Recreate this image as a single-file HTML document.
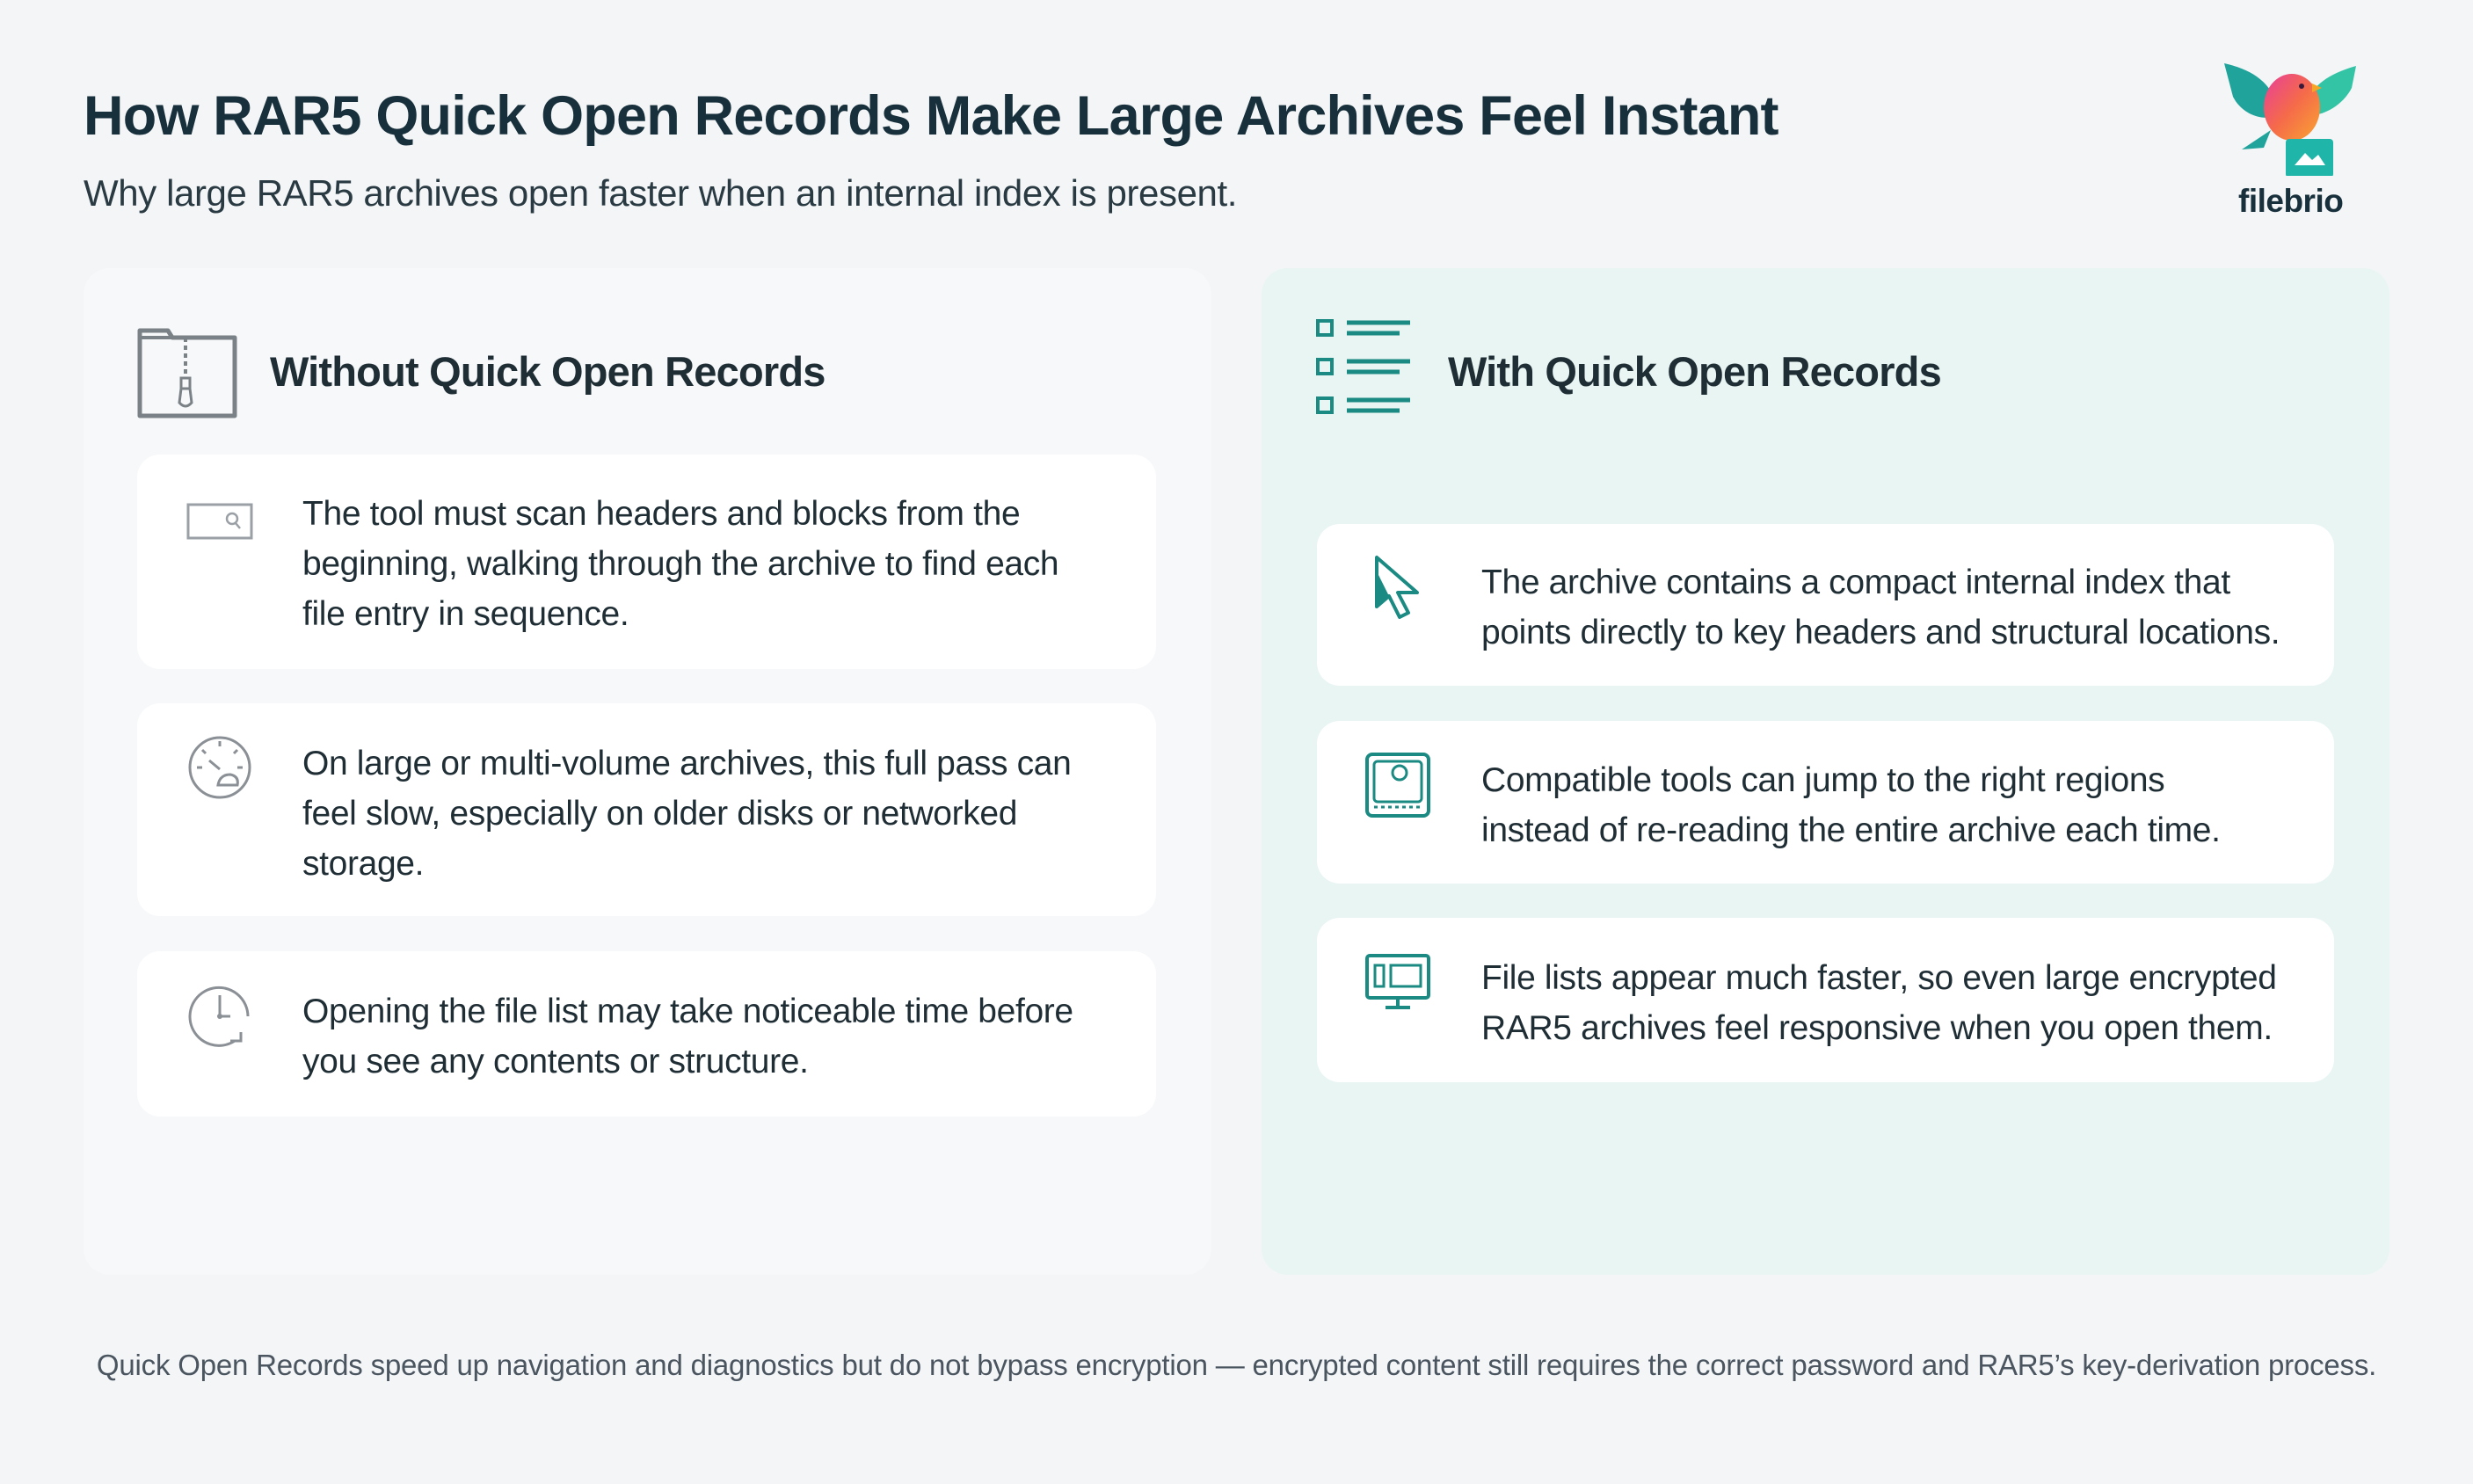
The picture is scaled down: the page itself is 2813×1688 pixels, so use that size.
<!DOCTYPE html>
<html><head><meta charset="utf-8"><style>
*{margin:0;padding:0;box-sizing:border-box}
body{width:2813px;height:1688px;background:#f3f5f7;font-family:"Liberation Sans",sans-serif;color:#1f2d35;position:relative;overflow:hidden}
.abs{position:absolute}
h1{position:absolute;left:95px;top:96px;font-size:63px;font-weight:bold;color:#17303b;letter-spacing:-0.8px;white-space:nowrap}
.sub{left:95px;top:196px;font-size:42px;color:#2a3a42;letter-spacing:-0.4px;white-space:nowrap}
.panel{position:absolute;top:305px;height:1145px;width:1283px;border-radius:30px}
.card{position:absolute;background:#fff;border-radius:26px}
.txt{position:absolute;font-size:39px;line-height:57px;letter-spacing:-0.35px;color:#1f2d35;white-space:nowrap}
.hd{position:absolute;font-size:47px;font-weight:bold;color:#1f2d35;letter-spacing:-0.8px;white-space:nowrap}
.foot{left:0;width:2813px;text-align:center;top:1534px;font-size:33px;color:#4a5560;letter-spacing:-0.2px}
</style></head><body>
<h1>How RAR5 Quick Open Records Make Large Archives Feel Instant</h1>
<div class="abs sub">Why large RAR5 archives open faster when an internal index is present.</div>

<!-- logo -->
<svg class="abs" style="left:2525px;top:60px" width="160" height="140" viewBox="0 0 160 140">
<defs><linearGradient id="bg" x1="0" y1="0" x2="1" y2="1"><stop offset="0" stop-color="#e83e9a"/><stop offset="0.5" stop-color="#f56a4a"/><stop offset="1" stop-color="#f9a431"/></linearGradient></defs>
<path d="M5 12 C40 20 60 35 70 70 C50 80 25 70 15 50 Z" fill="#1fa39b"/>
<path d="M155 15 C120 25 100 40 95 70 C115 75 140 60 150 40 Z" fill="#33c3a5"/>
<ellipse cx="82" cy="62" rx="32" ry="38" fill="url(#bg)"/>
<circle cx="93" cy="38" r="3" fill="#3a1a3a"/>
<path d="M105 35 L116 40 L105 45 Z" fill="#f7a526"/>
<path d="M58 88 L25 110 L50 108 Z" fill="#1fa39b"/>
<rect x="75" y="98" width="54" height="44" rx="4" fill="#1fb5a8"/>
<path d="M85 128 L97 114 L105 122 L112 116 L120 128 Z" fill="#fff"/>
</svg>
<div class="abs" style="left:2546px;top:208px;font-size:37px;font-weight:bold;color:#17303b;letter-spacing:-0.5px">filebrio</div>

<!-- left panel -->
<div class="panel" style="left:95px;background:#f7f8fa"></div>
<svg class="abs" style="left:156px;top:370px" width="115" height="106" viewBox="0 0 115 106">
<path d="M3 103 V6 H35 L40 14 H111 V103 Z" fill="none" stroke="#7b8287" stroke-width="5" stroke-linejoin="round"/>
<path d="M3 14 H40" stroke="#7b8287" stroke-width="4"/>
<path d="M55 14 V60" stroke="#7b8287" stroke-width="4" stroke-dasharray="5 4"/>
<rect x="50" y="60" width="10" height="12" fill="none" stroke="#7b8287" stroke-width="3"/>
<path d="M50 72 L48 88 Q55 96 62 88 L60 72" fill="none" stroke="#7b8287" stroke-width="3"/>
</svg>
<div class="hd" style="left:307px;top:395px">Without Quick Open Records</div>

<div class="card" style="left:156px;top:517px;width:1159px;height:244px"></div>
<svg class="abs" style="left:212px;top:572px" width="76" height="42"><rect x="2" y="2" width="72" height="38" fill="none" stroke="#9aa0a5" stroke-width="3"/><circle cx="52" cy="18" r="6" fill="none" stroke="#9aa0a5" stroke-width="2.5"/><path d="M56 23 L61 29" stroke="#9aa0a5" stroke-width="2.5"/></svg>
<div class="txt" style="left:344px;top:556px">The tool must scan headers and blocks from the<br>beginning, walking through the archive to find each<br>file entry in sequence.</div>

<div class="card" style="left:156px;top:800px;width:1159px;height:242px"></div>
<svg class="abs" style="left:212px;top:835px" width="76" height="76" viewBox="0 0 76 76"><circle cx="38" cy="38" r="34" fill="none" stroke="#8a9095" stroke-width="3"/><path d="M38 8 V14 M12 38 H18 M58 38 H64 M18 18 L22 22 M58 18 L54 22" stroke="#8a9095" stroke-width="3"/><path d="M26 30 L38 40" stroke="#8a9095" stroke-width="3"/><path d="M36 58 Q38 46 50 46 Q60 48 58 58 Z" fill="none" stroke="#8a9095" stroke-width="3"/></svg>
<div class="txt" style="left:344px;top:840px">On large or multi-volume archives, this full pass can<br>feel slow, especially on older disks or networked<br>storage.</div>

<div class="card" style="left:156px;top:1082px;width:1159px;height:188px"></div>
<svg class="abs" style="left:212px;top:1118px" width="76" height="76" viewBox="0 0 76 76"><path d="M70 38 A33 33 0 1 0 55 66" fill="none" stroke="#8a9095" stroke-width="3"/><path d="M38 14 V38 H50" fill="none" stroke="#8a9095" stroke-width="3"/><circle cx="38" cy="38" r="3" fill="#8a9095"/><path d="M50 66 H62 V56" fill="none" stroke="#8a9095" stroke-width="3"/></svg>
<div class="txt" style="left:344px;top:1122px">Opening the file list may take noticeable time before<br>you see any contents or structure.</div>

<!-- right panel -->
<div class="panel" style="left:1435px;background:#e8f5f3"></div>
<svg class="abs" style="left:1496px;top:362px" width="112" height="112" viewBox="0 0 112 112"><g fill="none" stroke="#1a8a82" stroke-width="4"><rect x="3" y="3" width="16" height="16"/><rect x="3" y="47" width="16" height="16"/><rect x="3" y="91" width="16" height="16"/></g><g stroke="#1a8a82" stroke-width="5"><path d="M36 5 H108 M36 17 H96 M36 49 H108 M36 61 H96 M36 93 H108 M36 105 H96"/></g></svg>
<div class="hd" style="left:1647px;top:395px">With Quick Open Records</div>

<div class="card" style="left:1498px;top:596px;width:1157px;height:184px"></div>
<svg class="abs" style="left:1562px;top:630px" width="60" height="76" viewBox="0 0 60 76"><path d="M4 4 V60 L18 48 L30 72 L40 67 L28 44 L50 44 Z" fill="none" stroke="#1a8a82" stroke-width="4" stroke-linejoin="round"/><path d="M4 4 V60 L18 48 L4 20Z" fill="#1a8a82"/></svg>
<div class="txt" style="left:1685px;top:634px">The archive contains a compact internal index that<br>points directly to key headers and structural locations.</div>

<div class="card" style="left:1498px;top:820px;width:1157px;height:185px"></div>
<svg class="abs" style="left:1552px;top:855px" width="76" height="76" viewBox="0 0 76 76"><rect x="3" y="3" width="70" height="70" rx="6" fill="none" stroke="#1a8a82" stroke-width="4"/><rect x="11" y="11" width="54" height="46" rx="4" fill="none" stroke="#1a8a82" stroke-width="3"/><circle cx="40" cy="24" r="8" fill="none" stroke="#1a8a82" stroke-width="3"/><path d="M11 63 H65" stroke="#1a8a82" stroke-width="3" stroke-dasharray="4 4"/></svg>
<div class="txt" style="left:1685px;top:859px">Compatible tools can jump to the right regions<br>instead of re-reading the entire archive each time.</div>

<div class="card" style="left:1498px;top:1044px;width:1157px;height:187px"></div>
<svg class="abs" style="left:1552px;top:1084px" width="76" height="70" viewBox="0 0 76 70"><rect x="3" y="3" width="70" height="48" rx="3" fill="none" stroke="#1a8a82" stroke-width="4"/><rect x="12" y="14" width="10" height="24" fill="none" stroke="#1a8a82" stroke-width="3"/><rect x="30" y="14" width="34" height="24" fill="none" stroke="#1a8a82" stroke-width="3"/><path d="M38 51 V60 M24 62 H52" stroke="#1a8a82" stroke-width="4"/></svg>
<div class="txt" style="left:1685px;top:1084px">File lists appear much faster, so even large encrypted<br>RAR5 archives feel responsive when you open them.</div>

<div class="abs foot">Quick Open Records speed up navigation and diagnostics but do not bypass encryption — encrypted content still requires the correct password and RAR5’s key-derivation process.</div>
</body></html>
